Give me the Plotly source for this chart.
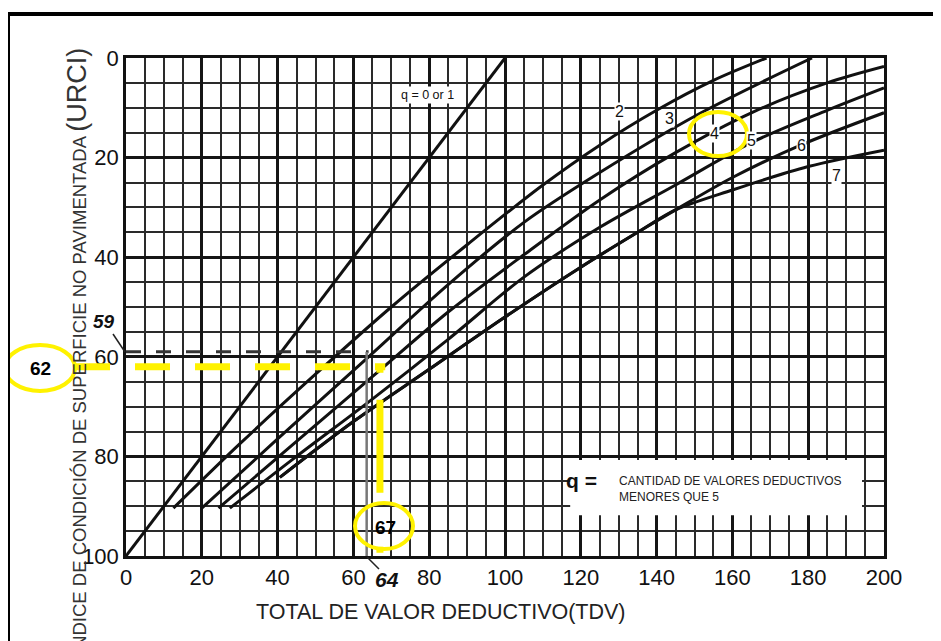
import plotly.graph_objects as go

# ---------------- data ----------------
q1_x = [0, 100]
q1_y = [100, 0]

c2_x = [12.5, 30, 50, 70, 90, 110, 125, 140, 155, 169]
c2_y = [90.4, 77.5, 63.5, 50, 37.5, 25.5, 17.5, 10.5, 4.5, 0]

c3_x = [20, 40, 64, 85, 105, 125, 151.5, 181]
c3_y = [90.4, 76.5, 60, 45.5, 33, 23, 11.1, 0]

c4_x = [24.4, 45, 65, 85, 105, 125, 145, 165, 185, 200]
c4_y = [90.4, 77, 64, 51, 39.5, 28.5, 19, 11, 5, 1.7]

c5_x = [27.4, 45, 65, 85, 105, 125, 145, 165, 185, 200]
c5_y = [90.4, 80, 68.5, 56.5, 44, 34, 25.5, 17, 10.5, 6]

c6_x = [40.6, 60, 80, 100, 120, 135, 145, 160, 178, 200]
c6_y = [84.2, 73, 62.5, 52, 42, 35, 30.5, 24, 17.5, 11]

c7_x = [40.6, 60, 80, 100, 120, 135, 145, 160, 180, 200]
c7_y = [84.2, 73, 62.5, 52, 42, 35, 30.5, 26.5, 21.8, 18.5]

curve_names = ["2", "3", "4", "5", "6", "7"]
label_x = [130.3, 143.4, 155.4, 165.1, 178.3, 187.5]
label_y = [10.8, 12.1, 15.1, 16.5, 17.5, 23.5]

x_ticks = [0, 20, 40, 60, 80, 100, 120, 140, 160, 180, 200]
y_ticks = [0, 20, 40, 60, 80, 100]

orig_tdv, orig_urci = 64, 59
new_tdv, new_urci = 67, 62

# ---------------- geometry ----------------
W, H = 941, 641
OFF = 8                      # page body margin
L, R, T, B = 126, 884, 58, 556   # plot area in screenshot pixels
XMAX, YMAX = 200, 100


def px(p):
    return (p - L) / (R - L)


def py(p):
    return (B - p) / (B - T)


def dx(v):
    return v / XMAX


def dy(v):
    return (YMAX - v) / YMAX


FONT = "Liberation Sans, Arial, sans-serif"
fig = go.Figure()

curves = [(q1_x, q1_y), (c2_x, c2_y), (c3_x, c3_y), (c4_x, c4_y),
          (c5_x, c5_y), (c6_x, c6_y), (c7_x, c7_y)]
for i, (xs, ys) in enumerate(curves):
    fig.add_trace(go.Scatter(
        x=xs, y=ys, mode="lines",
        line=dict(color="#111111", width=3,
                  shape="linear" if i == 0 else "spline", smoothing=0.9),
        showlegend=False, hoverinfo="skip"))

shapes = []
# white legend box over grid
shapes.append(dict(type="rect", xref="x", yref="y", x0=117.2, x1=194.2,
                   y0=80.7, y1=91.8, fillcolor="white", line=dict(width=0),
                   layer="above"))
# original reading: dashed dark line at 59 and grey vertical at 64
shapes.append(dict(type="line", xref="x", yref="y", x0=0, x1=orig_tdv,
                   y0=orig_urci, y1=orig_urci,
                   line=dict(color="#333333", width=3, dash="longdash")))
shapes.append(dict(type="line", xref="x", yref="y", x0=orig_tdv - 0.5,
                   x1=orig_tdv - 0.5, y0=orig_urci, y1=100,
                   line=dict(color="#777777", width=2.5)))
# leader ticks for 59 and 64
shapes.append(dict(type="line", xref="paper", yref="paper",
                   x0=px(113), x1=px(125), y0=py(334), y1=py(352),
                   line=dict(color="#222", width=1.5)))
shapes.append(dict(type="line", xref="paper", yref="paper",
                   x0=px(367), x1=px(379), y0=py(557), y1=py(569),
                   line=dict(color="#222", width=1.5)))
# yellow dashed reading lines
shapes.append(dict(type="line", xref="paper", yref="paper",
                   x0=px(75), x1=dx(new_tdv) + 0.007, y0=dy(new_urci), y1=dy(new_urci),
                   line=dict(color="#FFF200", width=7, dash="35px,25px")))
shapes.append(dict(type="line", xref="paper", yref="paper",
                   x0=dx(new_tdv), x1=dx(new_tdv), y0=dy(new_urci), y1=0,
                   line=dict(color="#FFF200", width=7, dash="6px,27px,93px,54px")))
# yellow ellipses
for cx, cy, rx, ry in [(40, 368, 35, 23), (384, 526, 29, 23), (718, 134, 29, 22)]:
    shapes.append(dict(type="circle", xref="paper", yref="paper",
                       x0=px(cx - rx), x1=px(cx + rx), y0=py(cy - ry), y1=py(cy + ry),
                       line=dict(color="#FFF200", width=4)))
# outer frame (left and top edges)
shapes.append(dict(type="line", xref="paper", yref="paper",
                   x0=px(8), x1=px(8), y0=py(12), y1=py(660),
                   line=dict(color="black", width=4)))
shapes.append(dict(type="line", xref="paper", yref="paper",
                   x0=px(6), x1=px(960), y0=py(14), y1=py(14),
                   line=dict(color="black", width=4)))

C = dict(xanchor="center", yanchor="middle", showarrow=False)
annotations = []
for name, lx, ly in zip(curve_names, label_x, label_y):
    annotations.append(dict(x=lx, y=ly, xref="x", yref="y", text=name,
                            bgcolor="white", borderpad=0,
                            font=dict(family=FONT, size=16, color="#111"), **C))
annotations.append(dict(x=79.5, y=7.4, xref="x", yref="y", text="q = 0 or 1",
                        bgcolor="white", borderpad=1,
                        font=dict(family=FONT, size=12.5, color="#111"), **C))
annotations.append(dict(x=120.3, y=84.9, xref="x", yref="y", text="<b>q =</b>",
                        font=dict(family=FONT, size=21, color="#111"), **C))
annotations.append(dict(x=129.5, y=86.6, xref="x", yref="y", xanchor="left",
                        yanchor="middle", align="left", showarrow=False,
                        text="CANTIDAD DE VALORES DEDUCTIVOS<br>MENORES QUE 5",
                        font=dict(family=FONT, size=12, color="#222")))
annotations.append(dict(x=px(104), y=py(321), xref="paper", yref="paper",
                        text="<b><i>59</i></b>",
                        font=dict(family=FONT, size=19, color="#111"), **C))
annotations.append(dict(x=px(387), y=py(579), xref="paper", yref="paper",
                        text="<b><i>64</i></b>",
                        font=dict(family=FONT, size=21, color="#111"), **C))
annotations.append(dict(x=px(40), y=py(368), xref="paper", yref="paper",
                        text="<b>%d</b>" % new_urci,
                        font=dict(family=FONT, size=19, color="black"), **C))
annotations.append(dict(x=px(385), y=py(527), xref="paper", yref="paper",
                        text="<b>%d</b>" % new_tdv,
                        font=dict(family=FONT, size=19, color="black"), **C))
annotations.append(dict(x=px(441), y=py(612), xref="paper", yref="paper",
                        text="TOTAL DE VALOR DEDUCTIVO(TDV)",
                        font=dict(family=FONT, size=21.5, color="#222"), **C))
annotations.append(dict(x=px(77), y=py(46), xref="paper", yref="paper",
                        xanchor="center", yanchor="top", textangle=-90,
                        text="ÍNDICE DE CONDICIÓN DE SUPERFICIE NO PAVIMENTADA "
                             "<span style='font-size:27px'>(URCI)</span>",
                        showarrow=False,
                        font=dict(family=FONT, size=18.5, color="#333")))

minor = dict(dtick=5, showgrid=True, gridcolor="#2a2a2a", gridwidth=1.6)
axis_common = dict(
    showgrid=True, gridcolor="#151515", gridwidth=2.6,
    showline=True, linecolor="#111", linewidth=2.5, mirror=True,
    zeroline=False, ticks="",
    tickfont=dict(family=FONT, size=22, color="#111"),
    minor=minor,
)

fig.update_layout(
    width=W, height=H,
    margin=dict(l=L - OFF, r=W - R + OFF, t=T - OFF, b=H - B + OFF),
    paper_bgcolor="white", plot_bgcolor="white",
    xaxis=dict(range=[0, XMAX], tickvals=x_ticks, **axis_common),
    yaxis=dict(range=[YMAX, 0], tickvals=y_ticks, **axis_common),
    shapes=shapes, annotations=annotations,
)

fig.write_html("out.html")
